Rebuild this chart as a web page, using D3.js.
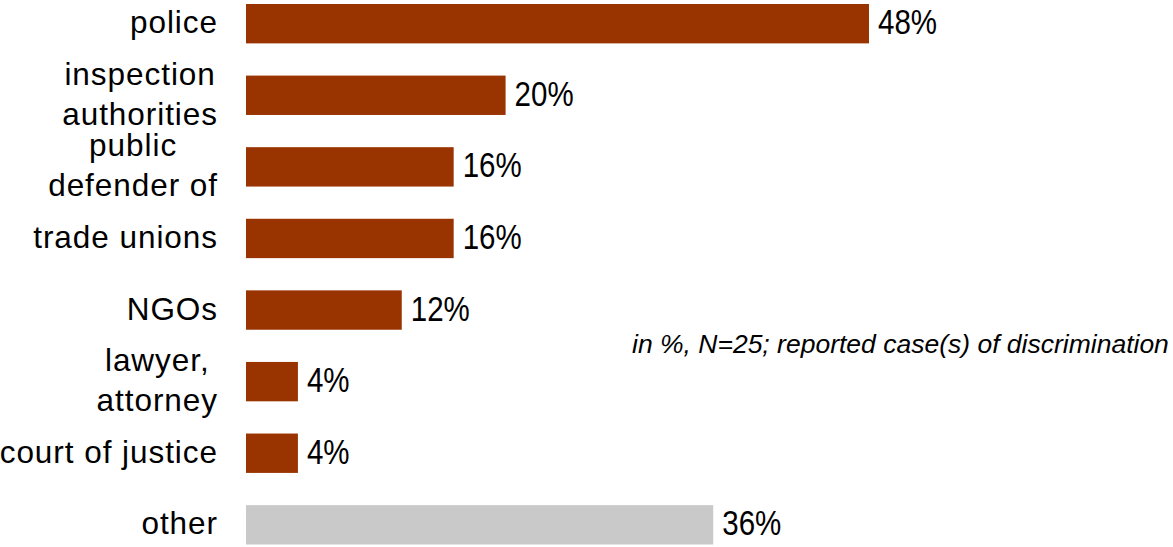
<!DOCTYPE html>
<html>
<head>
<meta charset="utf-8">
<script src="https://cdn.jsdelivr.net/npm/d3@7"></script>
<style>
  html, body { margin: 0; padding: 0; background: #fff; }
  svg { display: block; font-family: "Liberation Sans", Arial, Helvetica, sans-serif; }
</style>
</head>
<body>
<svg id="chart" width="1173" height="547"></svg>
<script>
// Institutions contacted after a reported case of discrimination
const categories = [
  ["police"],
  ["inspection", "authorities"],
  ["public", "defender of"],
  ["trade unions"],
  ["NGOs"],
  ["lawyer,", "attorney"],
  ["court of justice"],
  ["other"]
];
const values = [48, 20, 16, 16, 12, 4, 4, 36];
const isOther = [false, false, false, false, false, false, false, true];
const note = "in %, N=25; reported case(s) of discrimination";

const svg = d3.select("#chart");

const x = d3.scaleLinear()
  .domain([0, d3.max(values)])
  .range([246, 869]);

const y = d3.scaleBand()
  .domain(d3.range(values.length))
  .range([4, 544.5])
  .paddingInner(0.45)
  .paddingOuter(0);

const rows = values.map((v, i) => ({ i, v, lines: categories[i], other: isOther[i] }));

// bars
svg.append("g").selectAll("rect")
  .data(rows)
  .join("rect")
  .attr("x", x(0))
  .attr("y", d => y(d.i))
  .attr("width", d => x(d.v) - x(0))
  .attr("height", y.bandwidth())
  .attr("fill", d => d.other ? "#c9c9c9" : "#993300");

// value labels
svg.append("g").selectAll("text")
  .data(rows)
  .join("text")
  .attr("transform", d => `translate(${x(d.v) + 9},${y(d.i) + y.bandwidth() / 2 + 10.5}) scale(0.82,1)`)
  .attr("font-size", 36)
  .attr("fill", "#000")
  .text(d => d.v + "%");

// category labels: multi-line labels are centred within a right-aligned block
const labelRight = 218;
const fontSize = 31.5;
const lineGap = 40;
const catG = svg.append("g")
  .attr("font-size", fontSize)
  .attr("letter-spacing", "0.95px")
  .attr("fill", "#000");

rows.forEach(d => {
  const g = catG.append("g");
  const n = d.lines.length;
  const cy = y(d.i) + y.bandwidth() / 2;
  const texts = d.lines.map((line, k) =>
    g.append("text")
      .attr("y", cy + 9.5 + (k - (n - 1) / 2) * lineGap)
      .text(line));
  const widths = texts.map(t => t.node().getComputedTextLength());
  const maxW = d3.max(widths);
  const centre = labelRight - maxW / 2;
  texts.forEach((t, k) => t.attr("x", centre - widths[k] / 2));
});

// note
svg.append("text")
  .attr("x", 632)
  .attr("y", 353)
  .attr("font-size", 26.5)
  .attr("font-style", "italic")
  .attr("fill", "#000")
  .text(note);
</script>
</body>
</html>
